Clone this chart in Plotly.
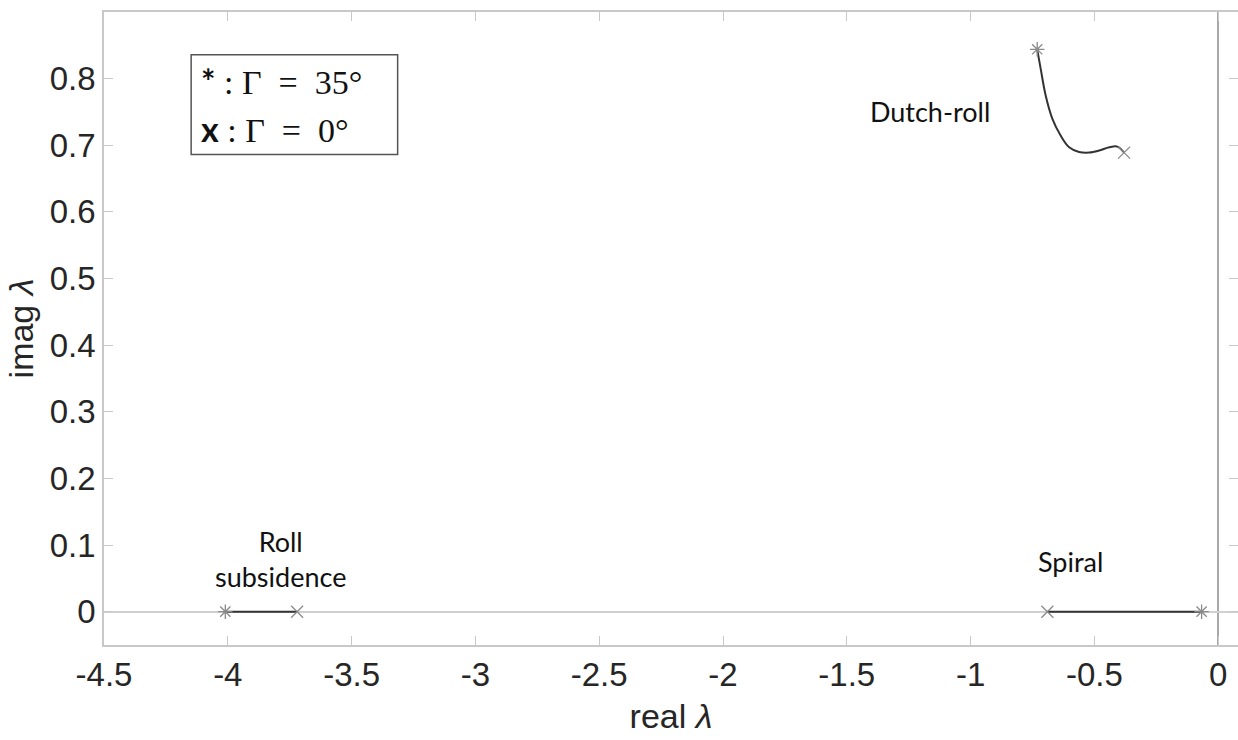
import plotly.graph_objects as go

# Lateral-directional eigenvalues as dihedral angle varies (Gamma = 0 deg -> 35 deg)
roll_re = [-4.01, -3.72]
roll_im = [0.0, 0.0]

spiral_re = [-0.69, -0.067]
spiral_im = [0.0, 0.0]

dutch_re = [-0.731, -0.717, -0.697, -0.670, -0.637, -0.602, -0.562,
            -0.521, -0.481, -0.440, -0.407, -0.380]
dutch_im = [0.844, 0.815, 0.775, 0.740, 0.715, 0.697, 0.690,
            0.689, 0.692, 0.697, 0.698, 0.689]

x_ticks = [-4.5, -4, -3.5, -3, -2.5, -2, -1.5, -1, -0.5, 0]
x_tick_text = ["-4.5", "-4", "-3.5", "-3", "-2.5", "-2", "-1.5", "-1", "-0.5", "0"]
y_ticks = [0, 0.1, 0.2, 0.3, 0.4, 0.5, 0.6, 0.7, 0.8]
y_tick_text = ["0", "0.1", "0.2", "0.3", "0.4", "0.5", "0.6", "0.7", "0.8"]

LINE = "#333333"
MARK = "#8a8a8a"
AXIS = "#c8c8c8"
TXT = "#262626"

fig = go.Figure()


def add_branch(xs, ys, sym_start, sym_end, shape="linear"):
    fig.add_trace(go.Scatter(x=xs, y=ys, mode="lines",
                             line=dict(color=LINE, width=2, shape=shape,
                                       smoothing=1.0),
                             hoverinfo="skip", showlegend=False))
    fig.add_trace(go.Scatter(x=[xs[0], xs[-1]], y=[ys[0], ys[-1]],
                             mode="markers",
                             marker=dict(symbol=[sym_start, sym_end], size=12,
                                         color=MARK,
                                         line=dict(color=MARK, width=1.3)),
                             hoverinfo="skip", showlegend=False))


add_branch(roll_re, roll_im, "asterisk-open", "x-thin-open")
add_branch(spiral_re, spiral_im, "x-thin-open", "asterisk-open")
add_branch(dutch_re, dutch_im, "asterisk-open", "x-thin-open", shape="spline")

# Right-hand tick marks only (the frame continues past the page edge)
fig.add_trace(go.Scatter(x=[None], y=[None], yaxis="y2", showlegend=False,
                         hoverinfo="skip"))

mode_font = dict(family="Lato, Open Sans, sans-serif", size=27, color="#111111")
fig.add_annotation(x=-1.164, y=0.750, text="Dutch-roll", showarrow=False,
                   font=mode_font)
fig.add_annotation(x=-3.787, y=0.079, text="Roll<br>subsidence", showarrow=False,
                   font=mode_font)
fig.add_annotation(x=-0.597, y=0.075, text="Spiral", showarrow=False,
                   font=mode_font)

# Marker key box
fig.add_shape(type="rect", x0=-4.148, x1=-3.314, y0=0.686, y1=0.836,
              line=dict(color="#555555", width=1.5), fillcolor="white")
key_font = dict(family="Liberation Serif, DejaVu Serif, serif", size=34,
                color="#111111")
SP = "&nbsp;"
fig.add_annotation(
    x=-4.118, y=0.797, xanchor="left", showarrow=False, font=key_font,
    text=f"<span style='font-family:Lato'><b>*</b></span> : Γ {SP}={SP} 35°")
fig.add_annotation(
    x=-4.118, y=0.725, xanchor="left", showarrow=False, font=key_font,
    text=f"<span style='font-family:Lato'><b>x</b></span> : Γ {SP}={SP} 0°")

tick_font = dict(family="Liberation Sans, Arial, sans-serif", size=33, color=TXT)
title_font = dict(family="Liberation Sans, Arial, sans-serif", size=34, color=TXT)

fig.update_layout(
    width=1238, height=740,
    margin=dict(l=104, r=0, t=12, b=95),
    paper_bgcolor="white", plot_bgcolor="white",
    xaxis=dict(range=[-4.5, 0.08], tickvals=x_ticks, ticktext=x_tick_text,
               showgrid=False, zeroline=True, zerolinecolor="#a8a8a8",
               zerolinewidth=1.5,
               showline=True, linecolor=AXIS, linewidth=1.5, mirror="ticks",
               ticks="inside", ticklen=9, tickcolor=AXIS, tickwidth=1.3,
               tickfont=tick_font,
               title=dict(text="real <i>λ</i>", font=title_font, standoff=12)),
    yaxis=dict(range=[-0.05, 0.9], tickvals=y_ticks, ticktext=y_tick_text,
               showgrid=False, zeroline=True, zerolinecolor="#d0d0d0",
               zerolinewidth=1.5,
               showline=True, linecolor=AXIS, linewidth=1.5, mirror=False,
               ticks="inside", ticklen=9, tickcolor=AXIS, tickwidth=1.3,
               tickfont=tick_font,
               title=dict(text="imag <i>λ</i>", font=title_font, standoff=6)),
    yaxis2=dict(range=[-0.05, 0.9], tickvals=y_ticks, overlaying="y",
                side="right", showgrid=False, zeroline=False, showline=False,
                showticklabels=False, ticks="inside", ticklen=9,
                tickcolor=AXIS, tickwidth=1.3),
)

fig.write_html("out.html")
